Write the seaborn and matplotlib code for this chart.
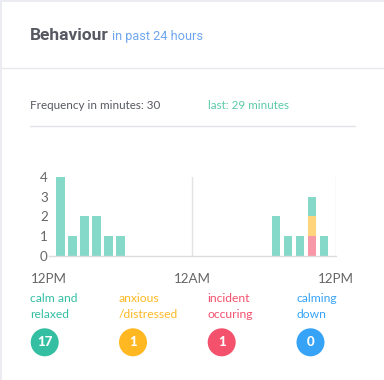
import numpy as np
import pandas as pd
import matplotlib
matplotlib.use("Agg")
import matplotlib.pyplot as plt
from matplotlib.patches import Circle, Rectangle
from matplotlib.lines import Line2D
import seaborn as sns

# ---- data ----
hours = list(range(24))
calm = [0, 4, 1, 2, 2, 1, 1, 0, 0, 0, 0, 0, 0, 0, 0, 0, 0, 0, 0, 2, 1, 1, 1, 1]
anxious = [0] * 22 + [1, 0]
incident = [0] * 22 + [1, 0]
calming = [0] * 24
states = ["calm", "anxious", "incident"]
x_tick_pos = [0, 12, 24]
x_tick_labels = ["12PM", "12AM", "12PM"]
y_ticks = [0, 1, 2, 3, 4]
legend_labels = ["calm and\nrelaxed", "anxious\n/distressed", "incident\noccuring", "calming\ndown"]
totals = [17, 1, 1, 0]

C_SUCCESS = "#34bfa3"
C_WARN = "#ffb822"
C_DANGER = "#f4516c"
C_INFO = "#36a3f7"
BAR_COLORS = {"calm": "#85d9c8", "anxious": "#ffd47a", "incident": "#f897a7"}

df = pd.DataFrame({
    "hour": hours * 3,
    "count": calm + anxious + incident,
    "state": ["calm"] * 24 + ["anxious"] * 24 + ["incident"] * 24,
})

sns.set_theme(style="white")
plt.rcParams["font.family"] = ["Lato", "DejaVu Sans"]

W, H = 384, 380
fig = plt.figure(figsize=(W / 100, H / 100), dpi=100)
fig.patch.set_facecolor("#ebebf2")
fig.add_artist(Rectangle((2 / W, 0), 1, (H - 2) / H, transform=fig.transFigure,
                         facecolor="white", edgecolor="none", zorder=0))

def px(x, y):
    return x / W, 1 - y / H

# header
fig.text(*px(30, 36), "Behaviour", fontsize=12.5, fontweight="bold", color="#575962",
         family=["Roboto", "DejaVu Sans"], va="center", ha="left")
fig.text(*px(111.5, 36.5), "in past 24 hours", fontsize=9.2, color="#6ea6ee",
         family=["Roboto", "DejaVu Sans"], va="center", ha="left")
fig.add_artist(Line2D([2 / W, 1], [1 - 68 / H] * 2, transform=fig.transFigure,
                      color="#e8e8ef", lw=1))
fig.text(*px(30, 105), "Frequency in minutes: 30", fontsize=8.4, color="#575962",
         va="center", ha="left")
fig.text(*px(207.5, 105), "last: 29 minutes", fontsize=8.4, color="#5ccaa9",
         va="center", ha="left")
fig.add_artist(Line2D([30 / W, 355 / W], [1 - 126 / H] * 2, transform=fig.transFigure,
                      color="#e3e3ea", lw=1))

# chart axes
left, right = 48.5, 336
top, bottom = 176.7, 256
ax = fig.add_axes([left / W, 1 - bottom / H, (right - left) / W, (bottom - top) / H])
sns.histplot(data=df, x="hour", weights="count", hue="state", hue_order=states,
             multiple="stack", discrete=True, shrink=0.72, palette=BAR_COLORS,
             alpha=1, linewidth=0, legend=False, ax=ax)
ax.set_xlim(0, 24)
ax.set_ylim(0, 4)
ax.set_xlabel("")
ax.set_ylabel("")
ax.set_xticks(x_tick_pos)
ax.set_xticklabels(x_tick_labels)
ax.set_yticks(y_ticks)
for s in ["top", "right", "left"]:
    ax.spines[s].set_visible(False)
ax.spines["bottom"].set_color("#dddddd")
ax.spines["bottom"].set_linewidth(1)
for xv in [12, 24]:
    ax.axvline(xv, color="#e3e3e3", lw=1, zorder=0)
ax.tick_params(axis="x", length=9, width=1, color="#dddddd", pad=3.5,
               labelsize=9.6, labelcolor="#666666")
ax.tick_params(axis="y", length=0, pad=0.5, labelsize=9.6, labelcolor="#666666")
ax.set_facecolor("white")
ax.patch.set_alpha(0)

# legend labels & circles
xs = [30, 118.5, 207.5, 296.5]
label_colors = [C_SUCCESS, C_WARN, C_DANGER, C_INFO]
circle_x = [44.7, 133, 221.7, 310.5]
for i in range(4):
    l1, l2 = legend_labels[i].split("\n")
    fig.text(*px(xs[i], 298.5), l1, fontsize=8.7, color=label_colors[i], va="center", ha="left")
    fig.text(*px(xs[i], 314.5), l2, fontsize=8.7, color=label_colors[i], va="center", ha="left")
    cx, cy = circle_x[i], 342.3
    fig.add_artist(Circle((cx / 100, (H - cy) / 100), 0.14, transform=fig.dpi_scale_trans,
                          facecolor=label_colors[i], edgecolor="none"))
    fig.text(*px(cx, cy), str(totals[i]), fontsize=9.5, fontweight="black", color="white",
             va="center", ha="center")

fig.savefig("out.png", dpi=100, facecolor=fig.get_facecolor())
